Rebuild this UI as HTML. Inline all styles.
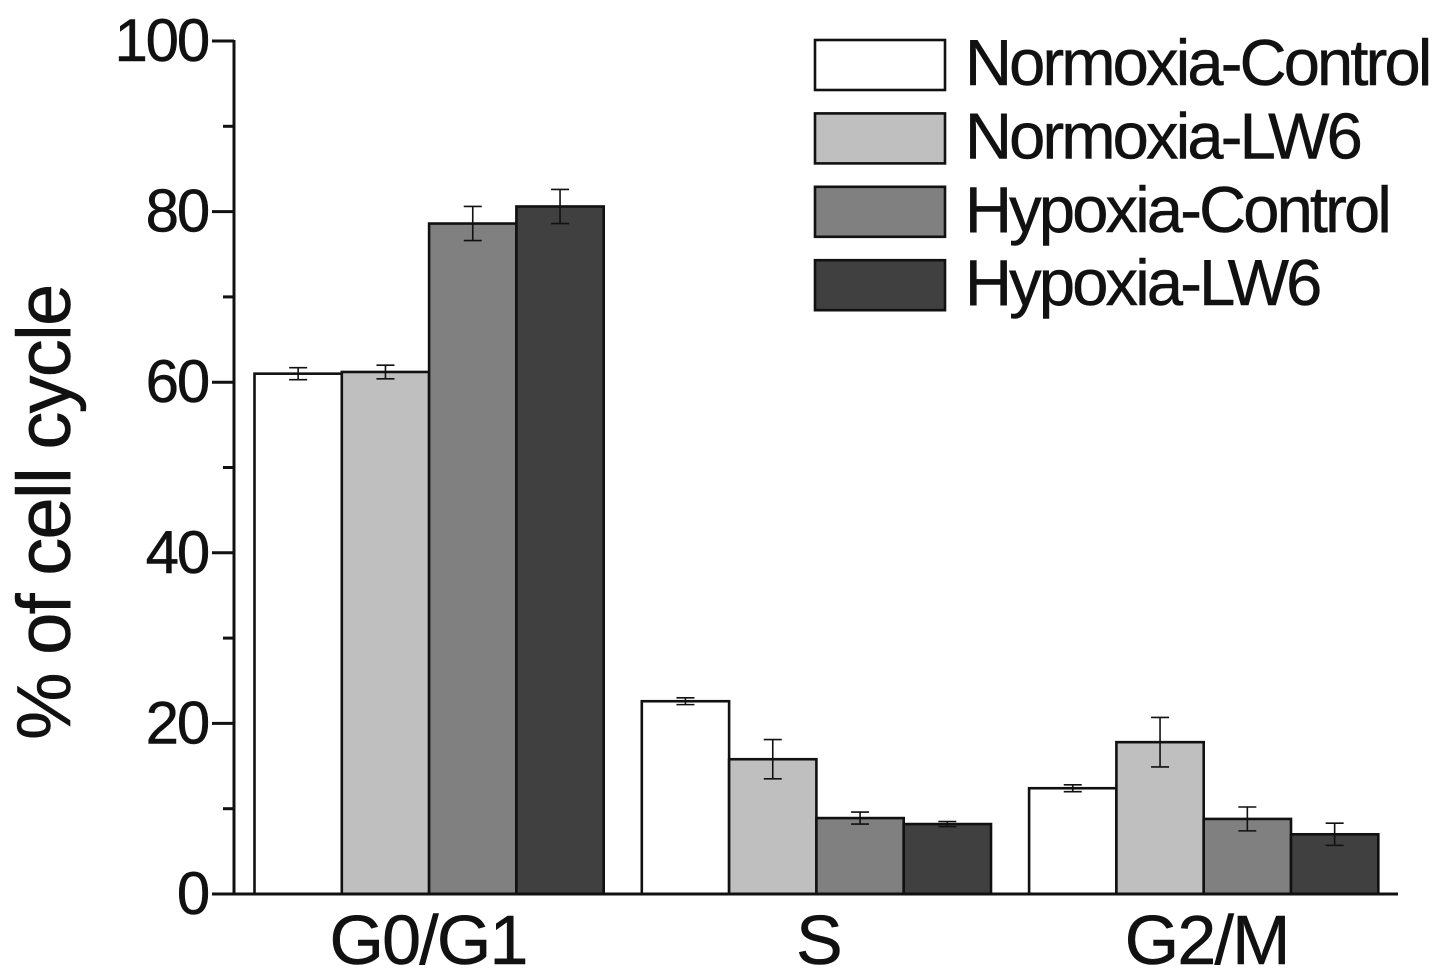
<!DOCTYPE html>
<html lang="en">
<head>
<meta charset="utf-8">
<title>% of cell cycle</title>
<style>
html,body{margin:0;padding:0;background:#fff;width:1441px;height:979px;overflow:hidden}
svg{display:block}
text{font-family:"Liberation Sans",Arial,sans-serif;fill:#111;stroke:#111;stroke-width:0.5px}
</style>
</head>
<body>
<svg id="chart" width="1441" height="979" viewBox="0 0 1441 979" xmlns="http://www.w3.org/2000/svg">
<rect x="0" y="0" width="1441" height="979" fill="#fff"/>
<g id="bars"></g>
<g id="axes"></g>
<text transform="translate(70,740) rotate(-90)" font-size="76" letter-spacing="-1.8">% of cell cycle</text>
<g id="legend"></g>
</svg>
<script>
const categories = ["G0/G1", "S", "G2/M"];
const seriesNames = ["Normoxia-Control", "Normoxia-LW6", "Hypoxia-Control", "Hypoxia-LW6"];
const normoxiaControl = [61.0, 22.6, 12.4];
const normoxiaLW6 = [61.2, 15.8, 17.8];
const hypoxiaControl = [78.6, 8.9, 8.8];
const hypoxiaLW6 = [80.6, 8.2, 7.0];
const normoxiaControlErr = [0.7, 0.4, 0.4];
const normoxiaLW6Err = [0.8, 2.3, 2.9];
const hypoxiaControlErr = [2.0, 0.7, 1.4];
const hypoxiaLW6Err = [2.0, 0.3, 1.3];
const majorTicks = [0, 20, 40, 60, 80, 100];
const minorTicks = [10, 30, 50, 70, 90];

const NS = "http://www.w3.org/2000/svg";
const fills = ["#ffffff", "#bfbfbf", "#808080", "#404040"];
const allValues = [normoxiaControl, normoxiaLW6, hypoxiaControl, hypoxiaLW6];
const allErrors = [normoxiaControlErr, normoxiaLW6Err, hypoxiaControlErr, hypoxiaLW6Err];
const INK = "#111";

function yScale(v) { return 894 - v * 8.53; }
function groupLeft(i) { return 254.5 + i * 387.3; }
const barWidth = 87.3;

function make(tag, attrs, parent, txt) {
  const el = document.createElementNS(NS, tag);
  for (const k in attrs) el.setAttribute(k, attrs[k]);
  if (txt !== undefined) el.textContent = txt;
  parent.appendChild(el);
  return el;
}

const barsG = document.getElementById("bars");
const axesG = document.getElementById("axes");
const legendG = document.getElementById("legend");

categories.forEach((cat, c) => {
  allValues.forEach((vals, s) => {
    const x = groupLeft(c) + s * barWidth;
    const top = yScale(vals[c]);
    const bar = make("rect", {x: x, y: top, width: barWidth, height: yScale(0) - top, fill: fills[s], stroke: INK, "stroke-width": 2.6}, barsG);
    
    
  });
});

categories.forEach((cat, c) => {
  allValues.forEach((vals, s) => {
    const cx = groupLeft(c) + (s + 0.5) * barWidth;
    const hi = yScale(vals[c] + allErrors[s][c]);
    const lo = yScale(vals[c] - allErrors[s][c]);
    const err = make("path", {d: `M${cx - 9} ${hi}H${cx + 9}M${cx} ${hi}V${lo}M${cx - 9} ${lo}H${cx + 9}`, fill: "none", stroke: INK, "stroke-width": 1.6}, barsG);
    
    
  });
});

const yAxis = make("line", {x1: 234, y1: yScale(100) - 1, x2: 234, y2: yScale(0) + 1.5, stroke: INK, "stroke-width": 3}, axesG);



const xAxis = make("line", {x1: 218, y1: yScale(0), x2: 1398, y2: yScale(0), stroke: INK, "stroke-width": 3}, axesG);



majorTicks.forEach(t => {
  const tick = make("line", {x1: 212, y1: yScale(t), x2: 234, y2: yScale(t), stroke: INK, "stroke-width": 3}, axesG);
  
  
  const label = make("text", {x: 208, y: yScale(t) + 20, "text-anchor": "end", "font-size": 60, "letter-spacing": -2.2}, axesG, String(t));
  
  
});

minorTicks.forEach(t => {
  const tick = make("line", {x1: 223, y1: yScale(t), x2: 234, y2: yScale(t), stroke: INK, "stroke-width": 3}, axesG);
  
  
});

const labelNudge = [-1, 2, 3];
categories.forEach((cat, c) => {
  const label = make("text", {x: groupLeft(c) + 2 * barWidth + labelNudge[c], y: 964, "text-anchor": "middle", "font-size": 70, "letter-spacing": -1.8}, axesG, cat);
  
  
});

const legendTops = [0, 1, 2, 3];
seriesNames.forEach((name, s) => {
  const top = 40 + legendTops[s] * 73.4;
  const swatch = make("rect", {x: 815, y: top, width: 130, height: 50, fill: fills[s], stroke: INK, "stroke-width": 2.6}, legendG);
  
  
  const label = make("text", {x: 965, y: top + 45, "font-size": 65, "letter-spacing": -2.8}, legendG, name);
  
  
});
</script>
</body>
</html>
